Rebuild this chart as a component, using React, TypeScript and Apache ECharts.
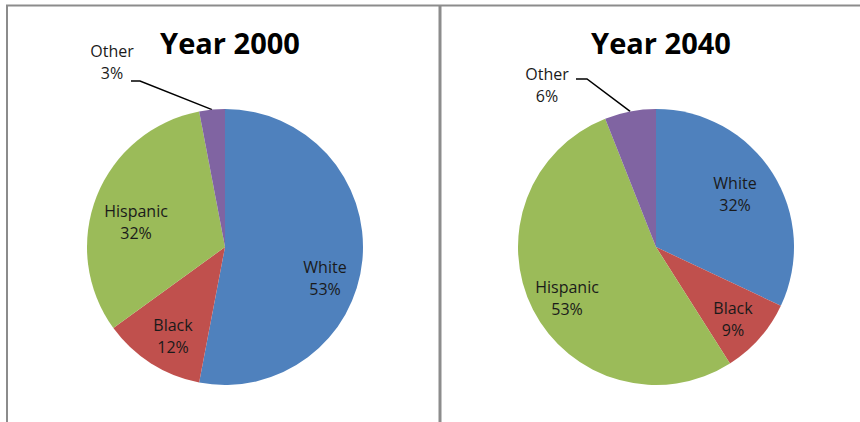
import React, { useEffect, useRef } from "react";
import * as echarts from "echarts";

const categories = ["White", "Black", "Hispanic", "Other"];
const values2000 = [53, 12, 32, 3];
const values2040 = [32, 9, 53, 6];
const titles = ["Year 2000", "Year 2040"];
const colors = ["#4F81BD", "#C0504D", "#9BBB59", "#8064A2"];

const FONT = "'Open Sans', 'Noto Sans', sans-serif";
const centers = [
  [225, 247],
  [656, 247],
];
const RADIUS = 138;
const labelPos: Record<string, number[]>[] = [
  { White: [325, 278], Black: [173, 336], Hispanic: [136, 222], Other: [112, 62] },
  { White: [735, 194], Black: [733, 319], Hispanic: [567, 298], Other: [547, 85] },
];
const leaderTail = [
  [
    [140, 81],
    [131, 81],
  ],
  [
    [587, 79],
    [576, 79],
  ],
];

function makeSeries(idx: number, values: number[]) {
  return {
    type: "pie",
    center: centers[idx],
    radius: RADIUS,
    startAngle: 90,
    clockwise: true,
    silent: true,
    itemStyle: { borderWidth: 0 },
    label: {
      show: true,
      position: "inside",
      formatter: "{b}\n{c}%",
      fontFamily: FONT,
      fontSize: 16,
      lineHeight: 22,
      color: "#1a1a1a",
    },
    labelLine: { show: false },
    labelLayout: (params: any) => {
      const name = categories[params.dataIndex];
      const p = labelPos[idx][name];
      const res: any = { x: p[0], y: p[1], align: "center", verticalAlign: "middle" };
      if (name === "Other" && params.labelLinePoints) {
        res.labelLinePoints = [params.labelLinePoints[0], ...leaderTail[idx]];
      }
      return res;
    },
    data: categories.map((c, i) => {
      const item: any = { name: c, value: values[i], itemStyle: { color: colors[i] } };
      if (c === "Other") {
        item.label = { position: "outside" };
        item.labelLine = {
          show: true,
          length: 20,
          length2: 10,
          lineStyle: { color: "#000", width: 1.5 },
        };
      }
      return item;
    }),
  };
}

export default function App() {
  const ref = useRef<HTMLDivElement>(null);
  useEffect(() => {
    if (!ref.current) return;
    const chart = echarts.init(ref.current, undefined, { renderer: "svg" });
    chart.setOption({
      animation: false,
      backgroundColor: "#ffffff",
      title: titles.map((t, i) => ({
        text: t,
        left: centers[i][0],
        top: 23,
        textAlign: "center",
        textStyle: {
          fontFamily: FONT,
          fontSize: 29,
          fontWeight: "bold",
          color: "#000",
        },
      })),
      graphic: [
        { type: "line", shape: { x1: 6, y1: 5.5, x2: 860, y2: 5.5 }, style: { stroke: "#8c8c8c", lineWidth: 2 } },
        { type: "line", shape: { x1: 7, y1: 5, x2: 7, y2: 422 }, style: { stroke: "#8c8c8c", lineWidth: 2 } },
        { type: "line", shape: { x1: 440, y1: 5, x2: 440, y2: 422 }, style: { stroke: "#8c8c8c", lineWidth: 3 } },
      ],
      series: [makeSeries(0, values2000), makeSeries(1, values2040)],
    });
    return () => chart.dispose();
  }, []);
  return (
    <div
      ref={ref}
      style={{ position: "fixed", left: 0, top: 0, width: 860, height: 422, background: "#fff" }}
    />
  );
}
